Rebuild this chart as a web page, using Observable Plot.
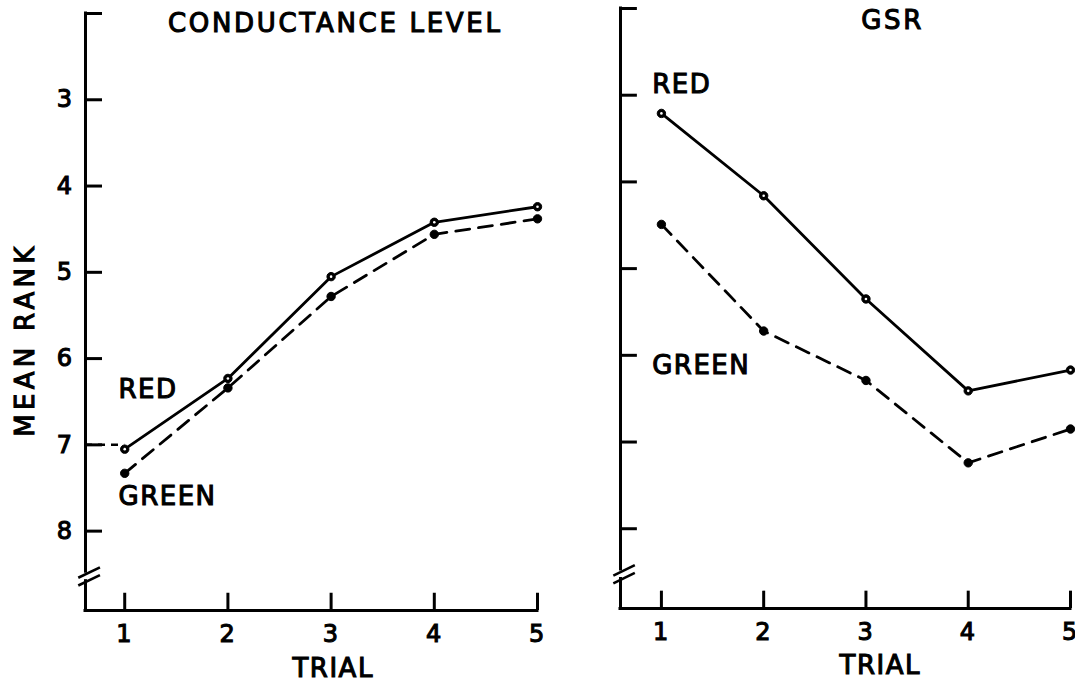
<!DOCTYPE html>
<html>
<head>
<meta charset="utf-8">
<script src="https://cdn.jsdelivr.net/npm/d3@7"></script>
<script src="https://cdn.jsdelivr.net/npm/@observablehq/plot@0.6"></script>
<style>
  html, body { margin: 0; padding: 0; background: #fff; }
  #wrap { position: relative; width: 1075px; height: 684px; overflow: hidden; background: #fff; }
  #wrap svg { position: absolute; top: 0; overflow: visible; }
  #left svg { left: 0; }
  #right svg { left: 575px; }
  #wrap svg text { font-weight: normal; stroke: black; stroke-width: 1.1px; }
  #wrap svg .wide text { letter-spacing: 2.7px; }
  #wrap svg .wider text { letter-spacing: 4.3px; }
</style>
</head>
<body>
<div id="wrap"><div id="left"></div><div id="right"></div></div>
<script>
// ---- data ----
const trials = [1, 2, 3, 4, 5];
const yTicks = [3, 4, 5, 6, 7, 8];
const condRed   = [7.05, 6.23, 5.05, 4.42, 4.24];
const condGreen = [7.33, 6.34, 5.28, 4.56, 4.38];
const gsrRed    = [3.21, 4.16, 5.35, 6.41, 6.17];
const gsrGreen  = [4.49, 5.72, 6.29, 7.24, 6.85];
const panelTitles = ["CONDUCTANCE LEVEL", "GSR"];
const yLabel = "MEAN RANK";
const xLabel = "TRIAL";
const seriesNames = ["RED", "GREEN"];
// label anchors (data units)
const condLabels = [{text: "RED", x: 0.94, y: 6.36}, {text: "GREEN", x: 0.94, y: 7.6}];
const gsrLabels  = [{text: "RED", x: 0.91, y: 2.88}, {text: "GREEN", x: 0.91, y: 6.12}];

const FONT = "DejaVu Sans";
const Y0 = 2, Y1 = 8.92;

function panel(opts) {
  const {width, marginLeft, marginRight, marginTop, marginBottom, x0, red, green,
         yLabels, labels, title, titleX, titleY, trialX, trialDy, meanRank, refLine} = opts;
  const rows = trials.flatMap((t, i) => [
    {trial: t, rank: red[i], s: seriesNames[0]},
    {trial: t, rank: green[i], s: seriesNames[1]}
  ]);
  const redRows = rows.filter(d => d.s === "RED");
  const greenRows = rows.filter(d => d.s === "GREEN");
  const tx = 0.165, ty = 0.2;
  const breaks = [
    {x1: x0 - 0.07, y1: 8.54, x2: x0 + 0.14, y2: 8.42},
    {x1: x0 - 0.07, y1: 8.63, x2: x0 + 0.14, y2: 8.51}
  ];
  const marks = [
    // axes
    Plot.ruleX([x0], {y1: Y0, y2: 8.47, strokeWidth: 3, strokeLinecap: "square"}),
    Plot.ruleX([x0], {y1: 8.58, y2: Y1, strokeWidth: 3, strokeLinecap: "square"}),
    Plot.ruleY([Y1], {x1: x0, x2: 5, strokeWidth: 3, strokeLinecap: "square"}),
    Plot.ruleY([Y0, ...yTicks], {y: d => d, x1: x0, x2: x0 + tx, strokeWidth: 3}),
    Plot.ruleX(trials, {x: d => d, y1: Y1, y2: Y1 - ty, strokeWidth: 3}),
    Plot.link(breaks, {x1: "x1", y1: "y1", x2: "x2", y2: "y2", strokeWidth: 2.6}),
    Plot.axisX(trials, {tickSize: 0, tickPadding: 14, fontSize: 24, tickFormat: d => String(d)}),
    yLabels ? Plot.axisY(yTicks, {tickSize: 0, tickPadding: 12, fontSize: 24, tickFormat: d => String(d)}) : null,
    refLine ? Plot.ruleY([refLine], {x1: x0, x2: 1, strokeWidth: 2.5, strokeDasharray: "7,6"}) : null,
    // data
    Plot.line(redRows, {x: "trial", y: "rank", stroke: "black", strokeWidth: 2.8}),
    Plot.line(greenRows, {x: "trial", y: "rank", stroke: "black", strokeWidth: 2.8, strokeDasharray: "14,9"}),
    Plot.dot(rows, {x: "trial", y: "rank", r: 4.2, fill: "black", stroke: "black", strokeWidth: 1}),
    Plot.dot(redRows, {x: "trial", y: "rank", r: 1.3, fill: "white"}),
    // texts
    Plot.text(labels, {x: "x", y: "y", text: "text", textAnchor: "start", fontSize: 26}),
    Plot.text([title], {x: titleX, y: titleY, fontSize: 26, className: "wide"}),
    Plot.text([xLabel], {x: trialX, frameAnchor: "bottom", lineAnchor: "middle", dy: trialDy, fontSize: 26}),
    meanRank ? Plot.text([yLabel], {frameAnchor: "left", textAnchor: "middle", lineAnchor: "middle", y: 5.78, dx: -60, rotate: -90, fontSize: 26, className: "wider"}) : null
  ].filter(Boolean);
  return Plot.plot({
    width, height: 684, marginLeft, marginRight, marginTop, marginBottom,
    style: {fontFamily: FONT, fontSize: "24px", color: "black", letterSpacing: "1.5px", overflow: "visible", background: "transparent"},
    x: {domain: [x0, 5], axis: null},
    y: {domain: [Y0, Y1], reverse: true, axis: null},
    marks
  });
}

const left = panel({
  width: 575, marginLeft: 85, marginRight: 38, marginTop: 13, marginBottom: 74,
  x0: 0.62, red: condRed, green: condGreen, yLabels: true, labels: condLabels,
  title: panelTitles[0], titleX: 3.04, titleY: 2.12, trialX: 3.02, trialDy: 58, meanRank: true, refLine: 7
});
const right = panel({
  width: 500, marginLeft: 45, marginRight: 5, marginTop: 8, marginBottom: 76,
  x0: 0.6, red: gsrRed, green: gsrGreen, yLabels: false, labels: gsrLabels,
  title: panelTitles[1], titleX: 3.26, titleY: 2.14, trialX: 3.14, trialDy: 57, meanRank: false, refLine: null
});
document.getElementById("left").appendChild(left);
document.getElementById("right").appendChild(right);
</script>
</body>
</html>
